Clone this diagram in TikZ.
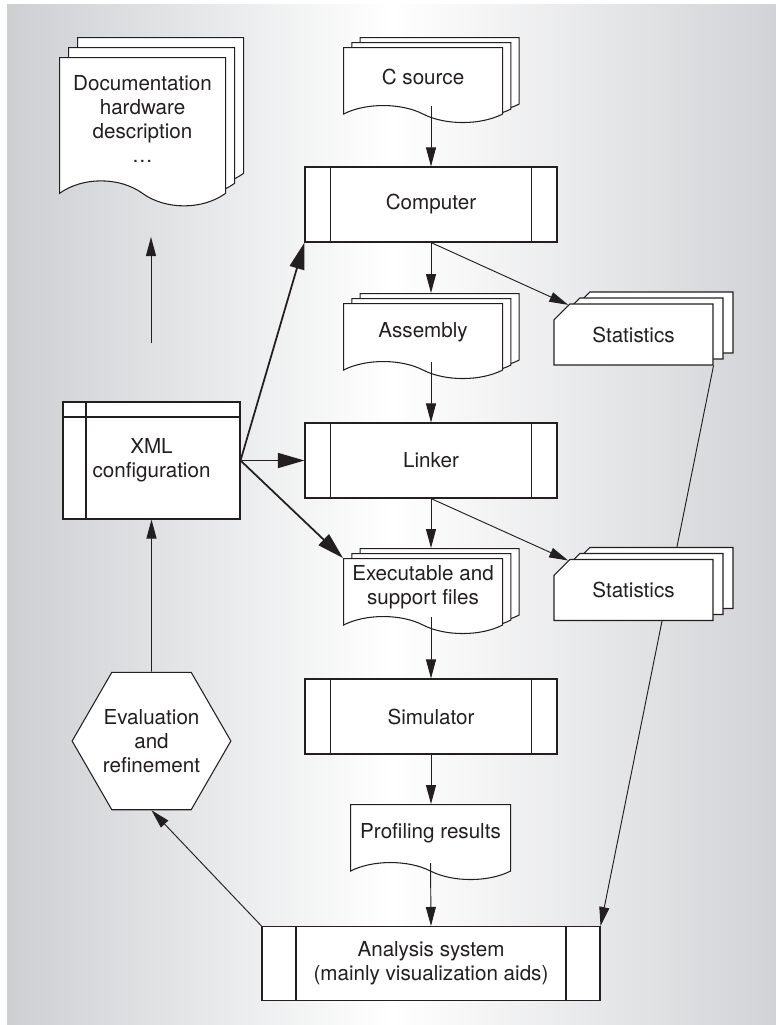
\documentclass[tikz,border=0pt]{standalone}
\usepackage{fontspec}
\setmainfont{TeX Gyre Heros}
\usetikzlibrary{arrows.meta,shapes.symbols,shapes.misc,shapes.geometric,shadows,backgrounds}
\definecolor{ln}{RGB}{35,31,32}
\definecolor{bgleft}{RGB}{205,207,210}
\definecolor{bgright}{RGB}{210,211,214}

\begin{document}
\begin{tikzpicture}[x=0.03cm, y=-0.03cm, every node/.style={font=\fontsize{17.6}{20.5}\selectfont, text=ln, align=center}, >={Triangle[length=0.57cm, width=0.3cm]},
	conn/.style={draw=ln, line width=0.8pt, ->},
	bigconn/.style={draw=ln, line width=1.5pt, -{Triangle[length=0.8cm, width=0.45cm]}},
	sheet/.style={draw=ln, fill=white, line width=0.9pt},
	procbox/.style={sheet, minimum width=7.56cm, minimum height=2.25cm, path picture={\draw[ln, line width=0.9pt] ([xshift=#1]path picture bounding box.north west) -- ([xshift=#1]path picture bounding box.south west) ([xshift=-#1]path picture bounding box.north east) -- ([xshift=-#1]path picture bounding box.south east);}},
	cfgbox/.style={sheet, minimum width=5.31cm, minimum height=3.51cm, path picture={\draw[ln, line width=0.9pt] ([xshift=0.69cm]path picture bounding box.north west) -- ([xshift=0.69cm]path picture bounding box.south west) ([yshift=-0.45cm]path picture bounding box.north west) -- ([yshift=-0.45cm]path picture bounding box.north east);}},
	doc/.style={sheet, shape=tape, tape bend top=none, tape bend bottom=out and in, tape bend height=0.51cm, minimum width=4.77cm, minimum height=2.25cm, anchor=north west},
	docstack/.style 2 args={doc, copy shadow={shadow xshift=2*#1, shadow yshift=2*#2, sheet}, copy shadow={shadow xshift=#1, shadow yshift=#2, sheet}},
	statstack/.style={sheet, chamfered rectangle, chamfered rectangle corners=north west, chamfered rectangle xsep=0.9cm, minimum width=4.77cm, minimum height=1.83cm, copy shadow={shadow xshift=0.6cm, shadow yshift=0.36cm, sheet}, copy shadow={shadow xshift=0.3cm, shadow yshift=0.18cm, sheet}},
	hexa/.style={sheet, regular polygon, regular polygon sides=6, minimum size=4.4cm, inner sep=0pt}]
	\useasboundingbox (0,0) rectangle (776,1025);
	\begin{scope}[on background layer]
		\shade[left color=bgleft, right color=bgright, middle color=white] (7,4) rectangle (776,1024);
	\end{scope}
	% left column
	\node[docstack={0.27cm}{0.3cm}, minimum width=4.98cm, minimum height=4.45cm, tape bend height=0.75cm] (docu) at (59,57) {Documentation\\hardware\\description\\\ldots};
	\node[cfgbox] (xml) at (151.5,460.5) {XML\\configuration};
	\node[hexa] (hex) at (151.5,741) {Evaluation\\and\\refinement};
	\coordinate (up0) at (151,343);
	\coordinate (up1) at (151,237);
	% tool chain
	\node[docstack={0.25cm}{0.15cm}] (csrc) at (343,47) {C source};
	\node[procbox=0.765cm] (comp) at (431,204.5) {Computer};
	\node[docstack={0.25cm}{0.15cm}] (asm) at (343,303) {Assembly};
	\node[statstack] (st1) at (633.5,334.5) {Statistics};
	\node[procbox=0.765cm] (link) at (431,460.5) {Linker};
	\node[docstack={0.25cm}{0.15cm}] (exec) at (343,558) {Executable and\\support files};
	\node[statstack] (st2) at (633.5,590) {Statistics};
	\node[procbox=0.765cm] (sim) at (431,716.5) {Simulator};
	\node[doc, minimum width=4.8cm] (prof) at (350,804) {Profiling results};
	\node[procbox=1.02cm, minimum width=10.14cm, minimum height=2.22cm] (ana) at (431,963.5) {Analysis system\\(mainly visualization aids)};
	\coordinate (asmtop) at ([yshift=0.3cm]asm.north);
	\coordinate (exectop) at ([yshift=0.3cm]exec.north);
	% connectors
	\draw[conn] (up0) -- (up1);
	\draw[conn] (comp.north |- csrc.south) -- (comp.north);
	\draw[conn] (comp.south) -- (comp.south |- asmtop);
	\draw[conn] (comp.south) -- (st1);
	\draw[conn] (link.north |- asm.south) -- (link.north);
	\draw[conn] (link.south) -- (link.south |- exectop);
	\draw[conn] (link.south) -- (st2);
	\draw[conn] (sim.north |- exec.south) -- (sim.north);
	\draw[conn] (sim.south) -- (sim.south |- prof.north);
	\draw[conn] (prof.south) -- (ana.north);
	\draw[conn] (ana.north west) -- (hex.south);
	\draw[conn] (hex.north) -- (xml.south);
	\draw[bigconn] (xml.east) -- (comp.south west);
	\draw[bigconn] (xml.east) -- (link.west);
	\draw[bigconn] (xml.east) -- (exec.north west);
	\begin{scope}[on background layer]
		\draw[conn] (st1.south east) -- (ana.north east);
	\end{scope}
\end{tikzpicture}
\end{document}
